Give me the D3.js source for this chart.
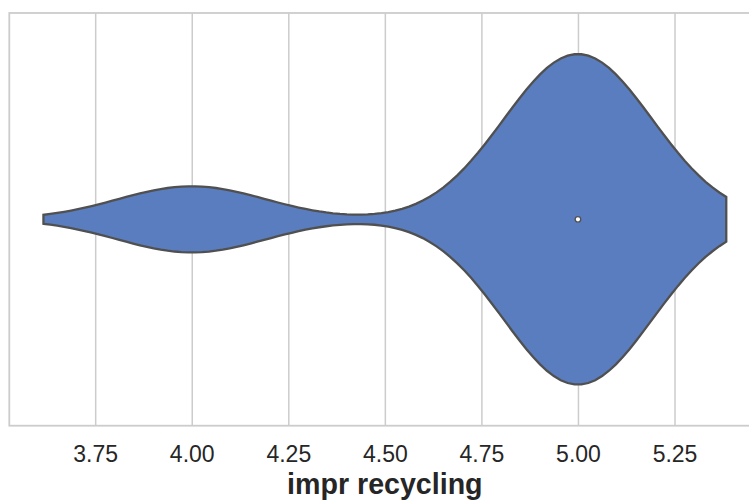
<!DOCTYPE html>
<html>
<head>
<meta charset="utf-8">
<script src="https://cdn.jsdelivr.net/npm/d3@7"></script>
<style>
  html, body { margin: 0; padding: 0; background: #ffffff; }
  svg { display: block; }
</style>
</head>
<body>
<div id="chart"></div>
<script>
// Survey responses for the "impr recycling" item: answer value and how many gave it
const categories = ["impr recycling"];
const responseValues = [4, 5];
const responseCounts = [5, 25];
const xTickValues = [3.75, 4.00, 4.25, 4.50, 4.75, 5.00, 5.25];

const W = 749, H = 502;
const plot = { left: 9.3, right: 760.4, top: 13, bottom: 425.7 };

const fillColor = "#597dbf";
const lineColor = "#505050";
const gridColor = "#cccccc";
const textColor = "#262626";

// Expand the counted answers into observations
const obs = [];
responseValues.forEach((v, i) => { for (let k = 0; k < responseCounts[i]; k++) obs.push(v); });
const n = obs.length;
const sd = d3.deviation(obs);                 // sample std (ddof = 1)
const bw = Math.pow(n, -1 / 5) * sd;          // Scott's rule
const lo = d3.min(obs) - 2 * bw, hi = d3.max(obs) + 2 * bw;
const gridN = 100;

// Gaussian kernel density evaluated on the support grid
const kde = d3.range(gridN).map(i => {
  const v = lo + (hi - lo) * i / (gridN - 1);
  let dens = 0;
  responseValues.forEach((c, j) => {
    const z = (v - c) / bw;
    dens += responseCounts[j] * Math.exp(-0.5 * z * z);
  });
  return { v, dens: dens / (n * bw * Math.sqrt(2 * Math.PI)) };
});
const maxDens = d3.max(kde, d => d.dens);
const halfWidth = 0.4;

const pad = 0.05 * (hi - lo);
const x = d3.scaleLinear().domain([lo - pad, hi + pad]).range([plot.left, plot.right]);
const y = d3.scaleLinear().domain([-0.5, 0.5]).range([plot.top, plot.bottom]);
const w = d3.scaleLinear().domain([0, maxDens]).range([0, halfWidth]);

const svg = d3.select("#chart").append("svg")
  .attr("width", W).attr("height", H)
  .style("font-family", "'Liberation Sans', Arial, sans-serif");

svg.append("rect").attr("width", W).attr("height", H).attr("fill", "#ffffff");

// vertical grid lines
svg.append("g")
  .attr("transform", `translate(0,${plot.bottom})`)
  .call(d3.axisBottom(x).tickValues(xTickValues).tickSize(-(plot.bottom - plot.top)).tickFormat(""))
  .call(g => g.select(".domain").remove())
  .call(g => g.selectAll("line").attr("stroke", gridColor).attr("stroke-width", 1.5));

// axes frame
svg.append("rect")
  .attr("x", plot.left).attr("y", plot.top)
  .attr("width", plot.right - plot.left).attr("height", plot.bottom - plot.top)
  .attr("fill", "none").attr("stroke", gridColor).attr("stroke-width", 1.8);

// tick labels
const xAxis = svg.append("g")
  .attr("transform", `translate(0,${plot.bottom})`)
  .call(d3.axisBottom(x).tickValues(xTickValues).tickSize(0).tickFormat(d3.format(".2f")));
xAxis.select(".domain").remove();
xAxis.selectAll("text")
  .attr("fill", textColor)
  .attr("font-size", 23)
  .attr("dy", null)
  .attr("y", 36.8);

// axis title
svg.append("text")
  .attr("x", (plot.left + plot.right) / 2)
  .attr("y", 493.5)
  .attr("text-anchor", "middle")
  .attr("font-size", 28.6)
  .attr("font-weight", "bold")
  .attr("fill", textColor)
  .text(categories[0]);

// violin body
const area = d3.area()
  .x(d => x(d.v))
  .y0(d => y(-w(d.dens)))
  .y1(d => y(w(d.dens)));

svg.append("path")
  .datum(kde)
  .attr("d", area)
  .attr("fill", fillColor)
  .attr("stroke", lineColor)
  .attr("stroke-width", 2.3)
  .attr("stroke-linejoin", "miter");

// median marker
svg.append("circle")
  .attr("cx", x(d3.median(obs)))
  .attr("cy", y(0))
  .attr("r", 2.8)
  .attr("fill", "#ffffff")
  .attr("stroke", lineColor)
  .attr("stroke-width", 1.3);
</script>
</body>
</html>
